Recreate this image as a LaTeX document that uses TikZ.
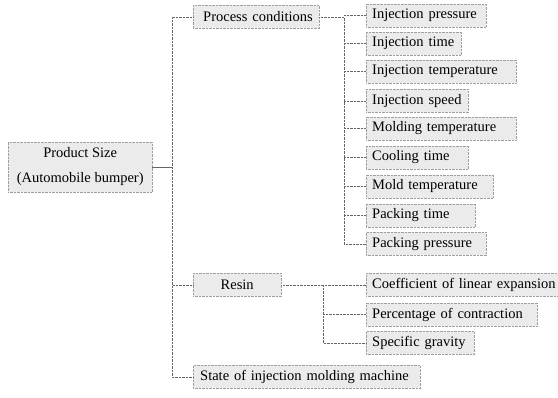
\documentclass[tikz,border=0pt]{standalone}
\usepackage{fontspec}
\setmainfont{Liberation Serif}
\usetikzlibrary{positioning}

\begin{document}
\begin{tikzpicture}[x=1pt,y=-1pt,font=\fontsize{14.5}{17}\selectfont,
  box/.style={draw=gray!75,densely dotted,fill=gray!16,minimum height=23pt,inner xsep=6pt,inner ysep=2pt,anchor=west},
  leaf/.style={box,text width=#1,align=left,execute at begin node=\hbox\bgroup,execute at end node=\egroup},
  link/.style={gray!80!black,densely dotted}]
\useasboundingbox (0,0) rectangle (558,398);
\node[box,minimum width=144pt,minimum height=50pt,align=center] (prod) at (8,167) {Product Size\\[8pt](Automobile bumper)};
\node[leaf=112pt,inner xsep=7pt] (proc) at (193,17) {\hspace{3pt}Process conditions};
\node[box,minimum width=88pt] (resin) at (193,285) {Resin};
\node[leaf=213pt,inner xsep=7pt] (state) at (193,377) {State of injection molding machine};
% process conditions
\node[leaf=108pt] (p1) at (366,15.5) {Injection pressure};
\node[leaf=83pt] (p2) at (366,43.5) {Injection time};
\node[leaf=138pt] (p3) at (366,71.5) {Injection temperature};
\node[leaf=90pt] (p4) at (366,101) {Injection speed};
\node[leaf=138pt] (p5) at (366,128.5) {Molding temperature};
\node[leaf=90pt] (p6) at (366,157.5) {Cooling time};
\node[leaf=115pt] (p7) at (366,186.5) {Mold temperature};
\node[leaf=97pt] (p8) at (366,215.5) {Packing time};
\node[leaf=108pt] (p9) at (366,244) {Packing pressure};
% resin
\node[leaf=190pt] (r1) at (366,285) {Coefficient of linear expansion};
\node[leaf=159pt] (r2) at (366,314.5) {Percentage of contraction};
\node[leaf=96pt] (r3) at (366,343) {Specific gravity};
% connectors
\coordinate (j0) at (172,167);\coordinate (j1) at (344,17);\coordinate (j2) at (323,285);
\draw[gray!80!black] (prod.east) -- (j0);
\draw[link] (proc.west) -- (j0 |- proc.west) |- (state.west);
\draw[link] (resin.west) -- (j0 |- resin.west);
\draw[link] (proc.east) -- (j1) |- (p9.west);
\foreach \i in {1,...,8} \draw[link] (j1 |- p\i.west) -- (p\i.west);
\draw[link] (resin.east) -- (r1.west);\draw[link] (j2) |- (r3.west);\draw[link] (j2 |- r2.west) -- (r2.west);
\end{tikzpicture}
\end{document}
